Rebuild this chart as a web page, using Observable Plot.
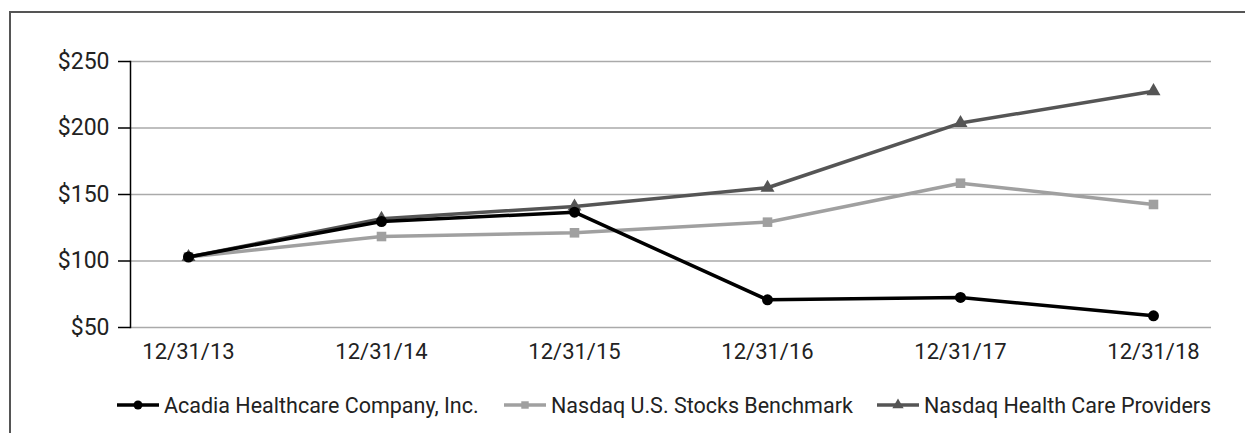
<!DOCTYPE html>
<html>
<head>
<meta charset="utf-8">
<script src="https://cdn.jsdelivr.net/npm/d3@7"></script>
<script src="https://cdn.jsdelivr.net/npm/@observablehq/plot@0.6"></script>
<style>
  html, body { margin: 0; padding: 0; background: #fff; }
  #wrap { position: relative; width: 1245px; height: 433px; overflow: hidden; font-family: Roboto, sans-serif; color: #222; }
  #frame { position: absolute; left: 9px; top: 11px; width: 1240px; height: 440px; border-left: 2px solid #555; border-top: 2px solid #555; box-sizing: border-box; pointer-events: none; }
  #chart { position: absolute; left: 0; top: 0; }
  #legend { position: absolute; left: 0; top: 385px; width: 1245px; height: 40px; font-size: 21.5px; }
  .item { position: absolute; top: 0; height: 40px; display: flex; align-items: center; white-space: nowrap; }
  .item svg { margin-right: 5px; }
</style>
</head>
<body>
<div id="wrap">
  <div id="chart"></div>
  <div id="legend"></div>
  <div id="frame"></div>
</div>
<script>
const dates = ["12/31/13", "12/31/14", "12/31/15", "12/31/16", "12/31/17", "12/31/18"];
const acadia = [103, 129.7, 136.7, 70.8, 72.6, 58.8];
const nasdaqUS = [103, 118.4, 121.2, 129.2, 158.5, 142.5];
const nasdaqHC = [103, 131.7, 141, 155.1, 203.7, 227.7];
const yTicks = [50, 100, 150, 200, 250];
const seriesNames = ["Acadia Healthcare Company, Inc.", "Nasdaq U.S. Stocks Benchmark", "Nasdaq Health Care Providers"];

const series = [
  {name: seriesNames[0], values: acadia, color: "#000000", symbol: "circle", r: 5.5},
  {name: seriesNames[1], values: nasdaqUS, color: "#a0a0a0", symbol: "square", r: 5.4},
  {name: seriesNames[2], values: nasdaqHC, color: "#555555", symbol: "triangle", r: 5.2}
];
const rows = s => dates.map((d, i) => ({date: d, value: s.values[i]}));
const drawOrder = [series[1], series[2], series[0]];

const marks = [
  Plot.gridY(yTicks, {stroke: "#aaaaaa", strokeOpacity: 1, strokeWidth: 1.5}),
  Plot.frame({anchor: "left", stroke: "#000", strokeWidth: 1.5}),
  Plot.axisY(yTicks, {tickSize: 12, tickPadding: 9, tickFormat: d => "$" + d, fontSize: 23, stroke: "#000", strokeWidth: 1.5, fill: "#222"}),
  Plot.axisX({tickSize: 0, tickPadding: 16, fontSize: 22, fill: "#222"})
];
for (const s of drawOrder) {
  marks.push(Plot.line(rows(s), {x: "date", y: "value", stroke: s.color, strokeWidth: 3.5}));
  marks.push(Plot.dot(rows(s), {x: "date", y: "value", fill: s.color, symbol: s.symbol, r: s.r, stroke: "none"}));
}

const chart = Plot.plot({
  width: 1245,
  height: 385,
  marginLeft: 130,
  marginRight: 34,
  marginTop: 61,
  marginBottom: 58,
  style: {fontFamily: "Roboto, sans-serif", background: "transparent"},
  x: {type: "point", domain: dates, padding: 0.3, label: null},
  y: {domain: [50, 250], label: null},
  marks
});
document.getElementById("chart").appendChild(chart);

// Legend
const legend = document.getElementById("legend");
const legendLeft = [117, 504, 877];
series.forEach((s, i) => {
  const item = document.createElement("div");
  item.className = "item";
  item.style.left = legendLeft[i] + "px";
  const sw = d3.create("svg").attr("width", 42).attr("height", 16);
  sw.append("line").attr("x1", 0).attr("x2", 42).attr("y1", 8).attr("y2", 8).attr("stroke", s.color).attr("stroke-width", 3.5);
  const sym = {circle: d3.symbolCircle, square: d3.symbolSquare, triangle: d3.symbolTriangle}[s.symbol];
  const size = s.symbol === "circle" ? Math.PI * 4.5 * 4.5 : Math.PI * 4.2 * 4.2;
  sw.append("path").attr("d", d3.symbol(sym, size)()).attr("transform", "translate(21,8)").attr("fill", s.color);
  item.appendChild(sw.node());
  const label = document.createElement("span");
  label.textContent = s.name;
  item.appendChild(label);
  legend.appendChild(item);
});
</script>
</body>
</html>
